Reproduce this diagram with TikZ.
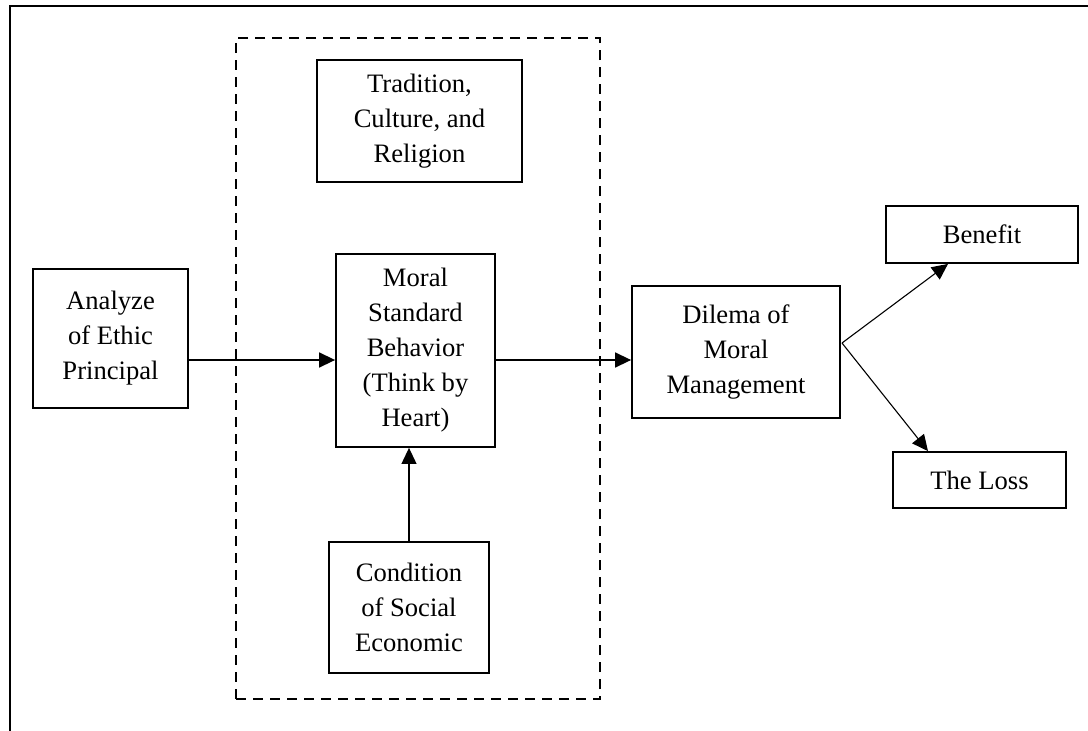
\documentclass[tikz,border=0pt]{standalone}
\usepackage{fontspec}
\setmainfont{Liberation Serif}
\usetikzlibrary{arrows.meta}

\begin{document}
\begin{tikzpicture}[x=1pt, y=-1pt,
        box/.style={draw, line width=1.8pt, align=center, inner sep=0pt, font=\fontsize{26.6}{35}\selectfont},
        group/.style={draw, line width=1.6pt, dash pattern=on 10pt off 7pt},
        arrow/.style={-{Triangle[length=16pt, width=15pt]}, line width=1.5pt},
        thinarrow/.style={-{Triangle[length=16pt, width=15pt]}, line width=1.1pt}
    ]
    \useasboundingbox (0,0) rectangle (1088,731);

    % Frame (top and left only)
    \draw[line width=2pt] (10,731) -- (10,6) -- (1088,6);

    % Dashed group
    \node[group, minimum width=364pt, minimum height=661pt] (factors) at (418,368.5) {};

    % Boxes
    \node[box, minimum width=155pt, minimum height=139pt] (analyze) at (110.5,338.5) {Analyze\\of Ethic\\Principal};
    \node[box, minimum width=205pt, minimum height=122pt] (tradition) at (419.5,121) {Tradition,\\Culture, and\\Religion};
    \node[box, minimum width=159pt, minimum height=193pt] (moral) at (415.5,350.5) {Moral\\Standard\\Behavior\\(Think by\\Heart)};
    \node[box, minimum width=160pt, minimum height=131pt] (condition) at (409,607.5) {Condition\\of Social\\Economic};
    \node[box, minimum width=208pt, minimum height=132pt] (dilema) at (736,352) {Dilema of\\Moral\\Management};
    \node[box, minimum width=192pt, minimum height=57pt] (benefit) at (982,234.5) {Benefit};
    \node[box, minimum width=173pt, minimum height=56pt] (loss) at (979.5,480) {The Loss};

    % Helper coordinates
    \coordinate (mainline) at (0,360);
    \coordinate (split) at (842,343);

    % Connectors
    \draw[arrow] (analyze.east |- mainline) -- (moral.west |- mainline);
    \draw[arrow] (moral.east |- mainline) -- (dilema.west |- mainline);
    \draw[thinarrow] (condition.north) -- (condition.north |- moral.south);
    \draw[thinarrow] (split) -- ([xshift=-34pt]benefit.south);
    \draw[thinarrow] (split) -- ([xshift=-51.5pt]loss.north);

\end{tikzpicture}
\end{document}
